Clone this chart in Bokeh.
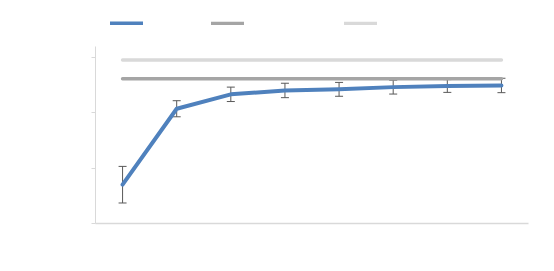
from bokeh.plotting import figure
from bokeh.models import (ColumnDataSource, Whisker, TeeHead, Legend, LegendItem,
                          FixedTicker, Range1d, CustomJSTickFormatter)
from bokeh.core.properties import value
from bokeh.embed import file_html
from bokeh.resources import INLINE

# ---- data ----
points = [1, 2, 3, 4, 5, 6, 7, 8]
measured = [0.70, 2.07, 2.33, 2.40, 2.42, 2.46, 2.48, 2.49]
errors = [0.33, 0.145, 0.13, 0.13, 0.125, 0.125, 0.115, 0.13]
reference_a = [2.61] * 8
reference_b = [2.95] * 8
y_ticks = [0, 1, 2, 3]

BLUE = "#4f81bd"
DARK_GRAY = "#a5a5a5"
LIGHT_GRAY = "#d9d9d9"
AXIS_GRAY = "#d9d9d9"
ERR_GRAY = "#595959"

src = ColumnDataSource(dict(
    x=points, y=measured,
    lower=[m - e for m, e in zip(measured, errors)],
    upper=[m + e for m, e in zip(measured, errors)],
    ra=reference_a, rb=reference_b,
))

p = figure(width=538, height=255, output_backend="svg", toolbar_location=None,
           x_range=Range1d(0.5, 8.5), y_range=Range1d(0, 3.77),
           min_border_left=95, min_border_right=10, min_border_top=14,
           min_border_bottom=32)
p.outline_line_color = None
p.xgrid.visible = False
p.ygrid.visible = False
p.background_fill_color = "white"
p.border_fill_color = "white"

empty = CustomJSTickFormatter(code="return ''")

p.yaxis.ticker = FixedTicker(ticks=y_ticks)
p.yaxis.bounds = (0, 3.2)
p.yaxis.formatter = empty
p.yaxis.axis_line_color = AXIS_GRAY
p.yaxis.axis_line_width = 1
p.yaxis.major_tick_line_color = AXIS_GRAY
p.yaxis.major_tick_out = 4
p.yaxis.major_tick_in = 0
p.yaxis.minor_tick_line_color = None

p.xaxis.ticker = FixedTicker(ticks=[])
p.xaxis.formatter = empty
p.xaxis.axis_line_color = AXIS_GRAY
p.xaxis.axis_line_width = 1.5
p.xaxis.major_tick_line_color = None
p.xaxis.minor_tick_line_color = None

rb = p.line("x", "rb", source=src, line_color=LIGHT_GRAY, line_width=3.5,
            line_cap="round")
ra = p.line("x", "ra", source=src, line_color=DARK_GRAY, line_width=3.5,
            line_cap="round")

wh = Whisker(base="x", lower="lower", upper="upper", source=src,
             dimension="height", line_color=ERR_GRAY, line_width=1,
             upper_head=TeeHead(size=8, line_color=ERR_GRAY, line_width=1),
             lower_head=TeeHead(size=8, line_color=ERR_GRAY, line_width=1),
             level="underlay")
p.add_layout(wh)

rm = p.line("x", "y", source=src, line_color=BLUE, line_width=4,
            line_join="round", line_cap="round")


def make_legend(renderer, x_off):
    lg = Legend(items=[LegendItem(label=value(""), renderers=[renderer])],
                location=(x_off, 198), orientation="horizontal",
                glyph_width=33, glyph_height=4, label_height=4, label_width=0,
                label_standoff=0, padding=0, margin=0, spacing=0,
                border_line_color=None, background_fill_alpha=0,
                label_text_font_size="4px")
    p.add_layout(lg, "center")


make_legend(rm, 15)
make_legend(ra, 116)
make_legend(rb, 249)

open("out.html", "w").write(file_html(p, INLINE))
